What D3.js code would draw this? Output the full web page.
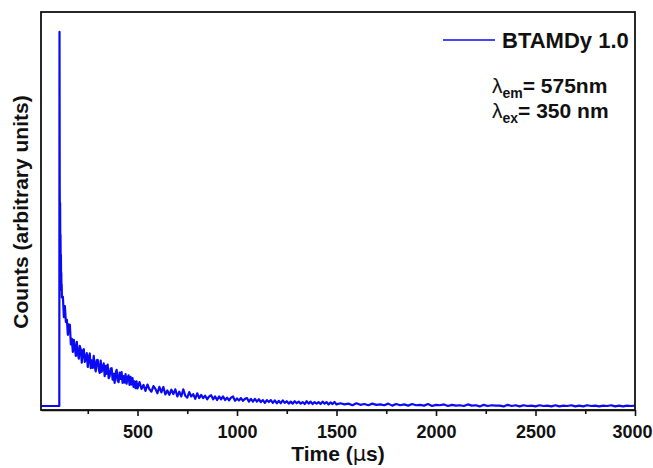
<!DOCTYPE html>
<html>
<head>
<meta charset="utf-8">
<script src="https://cdn.jsdelivr.net/npm/d3@7"></script>
<style>
  body { margin: 0; background: #fff; }
  svg { display: block; font-family: "Liberation Sans", Arial, sans-serif; }
  .axis text { font-weight: bold; font-size: 18px; fill: #111; }
  .axis path, .axis line { stroke: #111; stroke-width: 1.6; }
  .line { fill: none; stroke: #0a0af5; stroke-width: 2.2; stroke-linejoin: round; }
</style>
</head>
<body>
<svg width="653" height="468"></svg>
<script>
// baseline before the excitation pulse
let preTime = [15, 50, 80, 105, 107];
let preCounts = [10, 10, 10, 10, 10];

// pulse peak
let peakTime = 108;
let peakCount = 950;

// fast drop right after the pulse, 109..119 us every 1 us
let dropStart = 109, dropStep = 1;
let dropCounts = [560, 470, 520, 410, 440, 360, 390, 330, 345, 300, 315];

// early decay, 120..500 us every 5 us
let earlyStart = 120, earlyStep = 5;
let earlyCounts = [
  283, 285, 233, 261, 221, 227, 189, 215,
  214, 165, 179, 146, 176, 157, 136, 171, 142, 129,
  161, 152, 119, 149, 153, 121, 128, 143, 108, 132,
  142, 105, 125, 106, 136, 109, 97, 125, 126, 103,
  93, 124, 96, 107, 117, 85, 111, 91, 114, 80,
  85, 104, 105, 76, 91, 68, 92, 101, 74, 70,
  94, 78, 95, 68, 85, 69, 90, 66, 81, 87,
  63, 83, 64, 80, 58, 72, 55, 72, 54];

// middle decay, 510..1500 us every 10 us
let midStart = 510, midStep = 10;
let midCounts = [
  70, 53, 63, 48, 64, 52, 46, 60, 53, 42,
  58, 44, 58, 39, 49, 38, 51, 40, 52, 34,
  46, 34, 52, 36, 31, 45, 34, 40, 28, 42,
  30, 38, 30, 36, 27, 34, 37, 27, 34, 25,
  34, 27, 34, 25, 31, 24, 31, 34, 23, 29,
  24, 30, 23, 28, 30, 21, 28, 21, 28, 21,
  27, 20, 25, 18, 25, 20, 25, 18, 24, 17,
  23, 17, 24, 18, 22, 16, 21, 16, 22, 17,
  21, 16, 20, 15, 22, 16, 21, 15, 20, 16,
  20, 15, 21, 16, 20, 14, 19, 15, 20, 14];

// tail, 1520..3000 us every 20 us
let tailStart = 1520, tailStep = 20;
let tailCounts = [
  17, 14, 16, 12, 17, 13, 15, 12, 16, 13,
  14, 12, 16, 11, 15, 12, 14, 11, 15, 12,
  13, 11, 15, 10, 13, 12, 14, 10, 13, 11,
  12, 10, 14, 11, 12, 9, 13, 10, 12, 11,
  11, 9, 13, 10, 12, 9, 12, 10, 11, 9,
  12, 10, 11, 9, 12, 9, 11, 10, 12, 9,
  11, 9, 12, 10, 11, 9, 11, 10, 12, 9,
  11, 9, 11, 10, 11];

let xTicks = [500, 1000, 1500, 2000, 2500, 3000];
let xMinorTicks = [250, 750, 1250, 1750, 2250, 2750];

let svg = d3.select("svg"),
    margin = {top: 12, right: 18, bottom: 58, left: 41},
    width = +svg.attr("width") - margin.left - margin.right,
    height = +svg.attr("height") - margin.top - margin.bottom;

let data = [];
function addSegment(start, step, counts) {
  counts.forEach(function(c, i) { data.push({t: start + i * step, c: c}); });
}
preTime.forEach(function(t, i) { data.push({t: t, c: preCounts[i]}); });
data.push({t: peakTime, c: peakCount});
addSegment(dropStart, dropStep, dropCounts);
addSegment(earlyStart, earlyStep, earlyCounts);
addSegment(midStart, midStep, midCounts);
addSegment(tailStart, tailStep, tailCounts);

let g = svg.append("g")
  .attr("transform", "translate(" + margin.left + "," + margin.top + ")");

let x = d3.scaleLinear().domain([15, 3000]).range([0, width]);
let y = d3.scaleLinear().domain([0, 1000]).range([height, 0]);

let line = d3.line()
  .x(function(d) { return x(d.t); })
  .y(function(d) { return y(d.c); });

g.append("path")
  .datum(data)
  .attr("class", "line")
  .attr("d", line);

// minor ticks
g.append("g")
  .attr("class", "axis")
  .attr("transform", "translate(0," + height + ")")
  .call(d3.axisBottom(x).tickValues(xMinorTicks).tickSize(4).tickFormat(""))
  .select(".domain").remove();

// x-axis
g.append("g")
  .attr("class", "axis axis--x")
  .attr("transform", "translate(0," + height + ")")
  .call(d3.axisBottom(x).tickValues(xTicks).tickSize(6).tickSizeOuter(0).tickPadding(5).tickFormat(d3.format("d")))
  .selectAll("text")
    .attr("dy", "0.95em")
    .attr("dx", function(d) { return d === 3000 ? -3 : 0; });

// frame
g.append("rect")
  .attr("width", width)
  .attr("height", height)
  .attr("fill", "none")
  .attr("stroke", "#111")
  .attr("stroke-width", 1.8);

// axis titles
let xTitle = svg.append("text")
  .attr("x", margin.left + width / 2)
  .attr("y", 461)
  .attr("text-anchor", "middle")
  .style("font-weight", "bold")
  .style("font-size", "21px")
  .attr("fill", "#111");
xTitle.append("tspan").text("Time (");
xTitle.append("tspan").style("font-family", "'DejaVu Sans'").style("font-weight", "normal").text("\u03bc");
xTitle.append("tspan").text("s)");

svg.append("text")
  .attr("transform", "translate(28," + (margin.top + height / 2 + 1) + ") rotate(-90)")
  .attr("text-anchor", "middle")
  .style("font-weight", "bold")
  .style("font-size", "21px")
  .attr("fill", "#111")
  .text("Counts (arbitrary units)");

// legend
g.append("line")
  .attr("x1", 402).attr("x2", 454)
  .attr("y1", 28).attr("y2", 28)
  .attr("stroke", "#0a0af5")
  .attr("stroke-width", 1.5);

g.append("text")
  .attr("x", 461)
  .attr("y", 36)
  .style("font-weight", "bold")
  .style("font-size", "22px")
  .attr("fill", "#111")
  .text("BTAMDy 1.0");

function lambdaLabel(yPos, sub, rest) {
  let t = g.append("text")
    .attr("x", 451)
    .attr("y", yPos)
    .style("font-weight", "bold")
    .style("font-size", "21px")
    .attr("fill", "#111");
  t.append("tspan").style("font-weight", "normal").text("\u03bb");
  t.append("tspan").attr("dy", 5).style("font-size", "14px").text(sub);
  t.append("tspan").attr("dy", -5).text(rest);
}
lambdaLabel(81, "em", "= 575nm");
lambdaLabel(106, "ex", "= 350 nm");
</script>
</body>
</html>
